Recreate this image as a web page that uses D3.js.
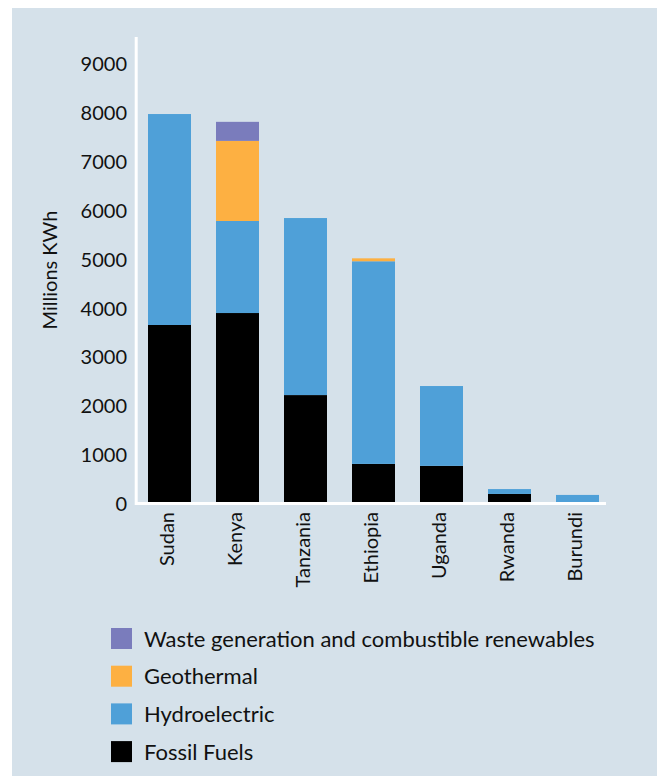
<!DOCTYPE html>
<html>
<head>
<meta charset="utf-8">
<script src="https://cdn.jsdelivr.net/npm/d3@7"></script>
<style>
  html, body { margin: 0; padding: 0; background: #ffffff; }
  svg { display: block; }
  text { font-family: Lato, "Open Sans", sans-serif; fill: #111; }
</style>
</head>
<body>
<svg id="chart" width="657" height="776"></svg>
<script>
// Electricity generation by source, millions kWh
const countries = ["Sudan", "Kenya", "Tanzania", "Ethiopia", "Uganda", "Rwanda", "Burundi"];
const fossilFuels = [3635, 3880, 2200, 790, 750, 175, 0];
const hydroelectric = [4320, 1885, 3625, 4150, 1635, 100, 155];
const geothermal = [0, 1640, 0, 60, 0, 0, 0];
const wasteRenewables = [0, 390, 0, 0, 0, 0, 0];
const yTicks = [0, 1000, 2000, 3000, 4000, 5000, 6000, 7000, 8000, 9000];

const seriesKeys = ["fossil", "hydro", "geo", "waste"];
const seriesNames = {
  waste: "Waste generation and combustible renewables",
  geo: "Geothermal",
  hydro: "Hydroelectric",
  fossil: "Fossil Fuels"
};
const colors = { fossil: "#000000", hydro: "#4fa0d8", geo: "#fdb042", waste: "#7a7cbc" };
const legendOrder = ["waste", "geo", "hydro", "fossil"];

const rows = countries.map((c, i) => ({
  country: c,
  fossil: fossilFuels[i],
  hydro: hydroelectric[i],
  geo: geothermal[i],
  waste: wasteRenewables[i]
}));

const svg = d3.select("#chart");

// panel background
svg.append("rect")
  .attr("x", 12).attr("y", 8)
  .attr("width", 645).attr("height", 768)
  .attr("fill", "#d5e1ea");

const x = d3.scaleBand()
  .domain(countries)
  .range([135.5, 611.5])
  .paddingInner(0.3676)
  .paddingOuter(0.1838);

const y = d3.scaleLinear()
  .domain([0, 9000])
  .range([502.5, 63]);

const stacked = d3.stack().keys(seriesKeys)(rows);

// stacked bars
svg.append("g")
  .selectAll("g")
  .data(stacked)
  .join("g")
  .attr("fill", d => colors[d.key])
  .selectAll("rect")
  .data(d => d.filter(s => s[1] - s[0] > 0))
  .join("rect")
  .attr("x", d => x(d.data.country))
  .attr("width", x.bandwidth())
  .attr("y", d => y(d[1]))
  .attr("height", d => y(d[0]) - y(d[1]));

// axis lines
svg.append("line")
  .attr("x1", 136.2).attr("x2", 136.2)
  .attr("y1", 37).attr("y2", 505)
  .attr("stroke", "#ffffff").attr("stroke-width", 3);
svg.append("line")
  .attr("x1", 135).attr("x2", 606)
  .attr("y1", 503.5).attr("y2", 503.5)
  .attr("stroke", "#ffffff").attr("stroke-width", 3);

// y axis labels
const yAxis = d3.axisLeft(y).tickValues(yTicks).tickSize(0).tickPadding(0).tickFormat(d3.format("d"));
const yG = svg.append("g").attr("transform", "translate(127,1.5)").call(yAxis);
yG.select(".domain").remove();
yG.selectAll("text").attr("font-size", 20).attr("font-family", "Lato, sans-serif").attr("fill", "#111");

// y axis title
svg.append("text")
  .attr("transform", "translate(57,270) rotate(-90)")
  .attr("text-anchor", "middle")
  .attr("font-size", 20)
  .text("Millions KWh");

// category labels
const xAxis = d3.axisBottom(x).tickSize(0).tickPadding(0);
const xG = svg.append("g").attr("transform", "translate(0,512)").call(xAxis);
xG.select(".domain").remove();
xG.selectAll("text")
  .attr("font-size", 20)
  .attr("font-family", "Lato, sans-serif")
  .attr("fill", "#111")
  .attr("text-anchor", "end")
  .attr("transform", "rotate(-90)")
  .attr("x", 0).attr("y", 0)
  .attr("dx", 0).attr("dy", "0.32em");
xG.selectAll(".tick").attr("transform", d => `translate(${x(d) + x.bandwidth() / 2 - 2},0)`);

// legend
const legend = svg.append("g").attr("transform", "translate(111,628)");
const item = legend.selectAll("g")
  .data(legendOrder)
  .join("g")
  .attr("transform", (d, i) => `translate(0,${i * 37.7})`);
item.append("rect")
  .attr("width", 21).attr("height", 21)
  .attr("fill", d => colors[d]);
item.append("text")
  .attr("x", 33).attr("y", 18.5)
  .attr("font-size", 22)
  .text(d => seriesNames[d]);
</script>
</body>
</html>
